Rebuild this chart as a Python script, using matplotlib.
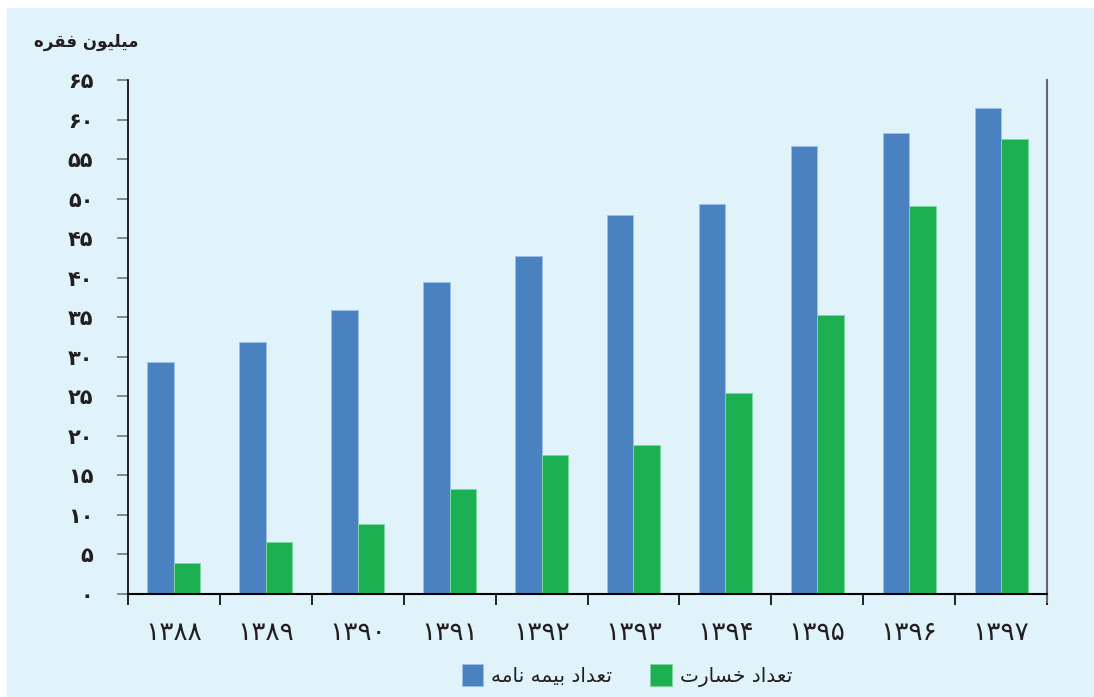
import matplotlib
matplotlib.use("Agg")
import matplotlib.pyplot as plt
import numpy as np
from matplotlib.patches import Rectangle

# Data (million cases)
years = ["۱۳۸۸", "۱۳۸۹", "۱۳۹۰", "۱۳۹۱", "۱۳۹۲", "۱۳۹۳", "۱۳۹۴", "۱۳۹۵", "۱۳۹۶", "۱۳۹۷"]
policies = [29.4, 31.9, 35.9, 39.4, 42.8, 47.9, 49.3, 56.7, 58.3, 61.4]
claims = [3.9, 6.6, 8.8, 13.3, 17.6, 18.8, 25.4, 35.3, 49.1, 57.5]
y_ticks = list(range(0, 70, 5))

title = "میلیون فقره"
label_policies = "تعداد بیمه نامه"
label_claims = "تعداد خسارت"

blue = "#4a81c0"
green = "#1db053"
bg = "#e0f2fa"

# Persian letters -> (isolated, final, initial, medial) presentation forms
FORMS = {
    "ا": ("\uFE8D", "\uFE8E", None, None),
    "ب": ("\uFE8F", "\uFE90", "\uFE91", "\uFE92"),
    "ت": ("\uFE95", "\uFE96", "\uFE97", "\uFE98"),
    "خ": ("\uFEA5", "\uFEA6", "\uFEA7", "\uFEA8"),
    "د": ("\uFEA9", "\uFEAA", None, None),
    "ر": ("\uFEAD", "\uFEAE", None, None),
    "س": ("\uFEB1", "\uFEB2", "\uFEB3", "\uFEB4"),
    "ع": ("\uFEC9", "\uFECA", "\uFECB", "\uFECC"),
    "ف": ("\uFED1", "\uFED2", "\uFED3", "\uFED4"),
    "ق": ("\uFED5", "\uFED6", "\uFED7", "\uFED8"),
    "ل": ("\uFEDD", "\uFEDE", "\uFEDF", "\uFEE0"),
    "م": ("\uFEE1", "\uFEE2", "\uFEE3", "\uFEE4"),
    "ن": ("\uFEE5", "\uFEE6", "\uFEE7", "\uFEE8"),
    "ه": ("\uFEE9", "\uFEEA", "\uFEEB", "\uFEEC"),
    "و": ("\uFEED", "\uFEEE", None, None),
    "ی": ("\uFBFC", "\uFBFD", "\uFBFE", "\uFBFF"),
}


def shape(text):
    # matplotlib has no Arabic shaping, so pick joined forms and reverse
    out = []
    for i, ch in enumerate(text):
        if ch not in FORMS:
            out.append(ch)
            continue
        iso, fin, ini, med = FORMS[ch]
        prev = text[i - 1] if i > 0 else ""
        nxt = text[i + 1] if i + 1 < len(text) else ""
        join_prev = prev in FORMS and FORMS[prev][2] is not None
        join_next = ini is not None and nxt in FORMS
        if join_prev and join_next:
            out.append(med)
        elif join_prev:
            out.append(fin)
        elif join_next:
            out.append(ini)
        else:
            out.append(iso)
    return "".join(reversed(out))


def fa_digits(n):
    return str(n).translate(str.maketrans("0123456789", "۰۱۲۳۴۵۶۷۸۹"))


plt.rcParams["font.family"] = ["DejaVu Sans"]

fig = plt.figure(figsize=(10.94, 6.97), dpi=100)
fig.patch.set_facecolor("white")
fig.patches.append(Rectangle((7 / 1094, 0), 1, 1 - 8 / 697, transform=fig.transFigure,
                             facecolor=bg, edgecolor="none", zorder=-10))

ax = fig.add_axes([128 / 1094, 1 - 594 / 697, (1047 - 128) / 1094, (594 - 80) / 697])
ax.set_facecolor(bg)

x = np.arange(len(years))
w = 0.288
ax.bar(x - w / 2, policies, w, color=blue, edgecolor="#9cc0e6", linewidth=0.7,
       label=shape(label_policies))
ax.bar(x + w / 2, claims, w, color=green, edgecolor="#7fd6a0", linewidth=0.7,
       label=shape(label_claims))

ax.set_xlim(-0.5, len(years) - 0.5)
ax.set_ylim(0, 65)

# x ticks at category boundaries, labels centred on categories
ax.set_xticks(np.arange(-0.5, len(years), 1))
ax.set_xticklabels([])
ax.set_xticks(x, minor=True)
ax.set_xticklabels(years, minor=True, fontsize=19, color="#231f20")
ax.tick_params(axis="x", which="major", length=8, width=1.2, color="black", direction="out")
ax.tick_params(axis="x", which="minor", length=0, pad=19)

ax.set_yticks(y_ticks)
ax.set_yticklabels([fa_digits(v) for v in y_ticks], fontsize=15, fontweight="bold",
                   color="#231f20")
ax.tick_params(axis="y", length=8, width=1.2, color="#777777", pad=17)

ax.spines["top"].set_visible(False)
ax.spines["left"].set_color("black")
ax.spines["left"].set_linewidth(1.2)
ax.spines["bottom"].set_color("black")
ax.spines["bottom"].set_linewidth(1.5)
ax.spines["right"].set_color("#666666")
ax.spines["right"].set_linewidth(1.5)
ax.spines["right"].set_bounds(-1, 65)

fig.text(139 / 1094, 1 - 42 / 697, shape(title), ha="right", va="center",
         fontsize=12, fontweight="bold", color="#231f20")

ax.legend(loc="center", bbox_to_anchor=(0.543, -0.158), ncol=2, frameon=False,
          fontsize=14.5, handlelength=1.05, handleheight=1.3, handletextpad=0.4,
          columnspacing=1.9, labelcolor="#231f20")

fig.savefig("out.png", dpi=100, facecolor=fig.get_facecolor())
